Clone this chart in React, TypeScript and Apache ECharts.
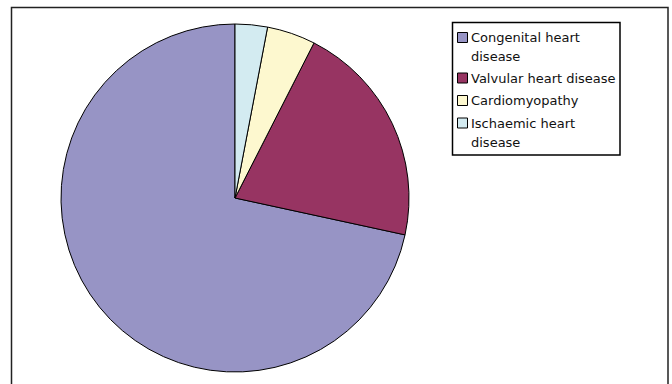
import React, { useEffect, useRef } from "react";
import * as echarts from "echarts";

const categories = [
  "Congenital heart disease",
  "Valvular heart disease",
  "Cardiomyopathy",
  "Ischaemic heart disease",
];
const legendLabels = [
  "Congenital heart\ndisease",
  "Valvular heart disease",
  "Cardiomyopathy",
  "Ischaemic heart\ndisease",
];
const values = [71.6, 20.9, 4.5, 3.0];
const colors = ["#9794c5", "#973462", "#fdf8cf", "#d3ebf1"];

export default function App() {
  const ref = useRef<HTMLDivElement>(null);
  useEffect(() => {
    document.body.style.margin = "0";
    if (!ref.current) return;
    const chart = echarts.init(ref.current, null, { renderer: "svg" });

    const legendItems: any[] = [];
    let cy = 37.5;
    legendLabels.forEach((lab, i) => {
      const lines = lab.split("\n").length;
      legendItems.push({
        type: "rect",
        shape: { x: 457.5, y: cy - 5, width: 10, height: 10 },
        style: { fill: colors[i], stroke: "#000", lineWidth: 1 },
        silent: true,
      });
      legendItems.push({
        type: "text",
        x: 471,
        y: cy - 9.5,
        style: {
          text: lab,
          fill: "#111",
          font: "13px 'DejaVu Sans'",
          lineHeight: 19,
          verticalAlign: "top",
          align: "left",
        },
        silent: true,
      });
      cy += 22.5 + 18 * (lines - 1);
    });

    chart.setOption({
      animation: false,
      backgroundColor: "#fff",
      graphic: [
        {
          type: "rect",
          shape: { x: 11.5, y: 7.5, width: 656.5, height: 420 },
          style: { fill: "none", stroke: "#222", lineWidth: 1.5 },
          silent: true,
          z: 10,
        },
        {
          type: "rect",
          shape: { x: 452.5, y: 22.5, width: 167.5, height: 132.5 },
          style: { fill: "#fff", stroke: "#000", lineWidth: 1.5 },
          silent: true,
          z: 10,
        },
        ...legendItems.map((it) => ({ ...it, z: 11 })),
      ],
      series: [
        {
          type: "pie",
          center: [235, 198],
          radius: 174,
          startAngle: 90,
          clockwise: false,
          silent: true,
          label: { show: false },
          labelLine: { show: false },
          itemStyle: { borderColor: "#000", borderWidth: 1 },
          emphasis: { disabled: true },
          data: categories.map((c, i) => ({
            name: c,
            value: values[i],
            itemStyle: { color: colors[i] },
          })),
        },
      ],
    });
    return () => chart.dispose();
  }, []);
  return <div ref={ref} style={{ width: 672, height: 384 }} />;
}
